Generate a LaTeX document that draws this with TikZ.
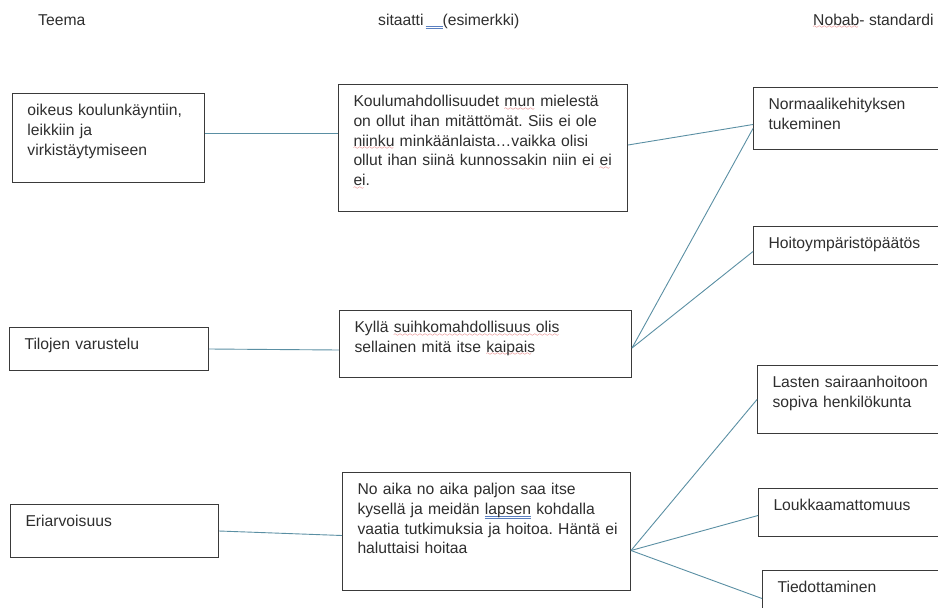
\documentclass[tikz,border=0pt]{standalone}
\usepackage{fontspec}
\setmainfont{Liberation Sans}
\usepackage{xcolor}
\definecolor{vblack}{HTML}{3A3A3A}
\definecolor{vtext}{HTML}{2E2E2E}
\definecolor{vline}{HTML}{5A8FA3}
\definecolor{vred}{HTML}{D83030}
\definecolor{vmark}{HTML}{5A7FC0}
\font\vwavefont=lasy6
% spelling marks
\newcommand{\spellmark}[1]{\leavevmode\setbox0\hbox{#1}\rlap{\textcolor{vred}{\lower3.5pt\hbox to \wd0{\leaders\hbox{\vwavefont\char58}\hfil}}}\box0\relax}
\newcommand{\grammark}[1]{\leavevmode\setbox0\hbox{#1}\rlap{\textcolor{vmark}{\rule[-1.8pt]{\wd0}{0.6pt}}}\rlap{\textcolor{vmark}{\rule[-3.8pt]{\wd0}{0.6pt}}}\box0\relax}

\tikzset{
	cell/.style = {draw = vblack, line width = 1pt, anchor = north west, align = left, inner xsep = 0pt, inner ysep = 0pt, text height = 22pt, text = vtext, font = \fontsize{15.7}{19.8}\selectfont, execute at begin node = {\frenchspacing\leftskip = 15pt\rightskip = 0pt plus 1fil}},
	head/.style = {anchor = base west, inner sep = 0pt, text = vtext, font = \fontsize{15.7}{19.8}\selectfont},
	link/.style = {draw = vline, line width = 0.9pt}
}

\begin{document}
\begin{tikzpicture}[x = 1pt, y = -1pt]
	\clip (0,0) rectangle (938,608);
	% headers
	\node[head] (hteema) at (38,25) {Teema};
	\node[head] (hsit) at (378,25) {sitaatti\hspace{2pt}\grammark{\hspace{17pt}}(esimerkki)};
	\node[head] (hstd) at (813,25) {\spellmark{Nobab}- standardi};
	% themes
	\node[cell, text width = 192pt, text depth = 67pt] (tema1) at (12,93) {oikeus koulunkäyntiin,\\leikkiin ja\\virkistäytymiseen};
	\node[cell, text width = 199pt, text depth = 21pt] (tema2) at (9,327) {Tilojen varustelu};
	\node[cell, text width = 208pt, text depth = 31pt] (tema3) at (10,504) {Eriarvoisuus};
	% quotes
	\node[cell, text width = 289pt, text depth = 105pt] (sit1) at (338,84) {Koulumahdollisuudet \spellmark{mun} mielestä\\on ollut ihan mitättömät. Siis ei ole\\\spellmark{niinku} minkäänlaista\ldots vaikka olisi\\ollut ihan siinä kunnossakin niin ei \spellmark{ei}\\\spellmark{ei}.};
	\node[cell, text width = 292pt, text depth = 45pt] (sit2) at (339,310) {Kyllä \spellmark{suihkomahdollisuus olis}\\sellainen mitä itse \spellmark{kaipais}};
	\node[cell, text width = 288pt, text depth = 96pt] (sit3) at (342,472) {No aika no aika paljon saa itse\\kysellä ja meidän \grammark{lapsen} kohdalla\\vaatia tutkimuksia ja hoitoa. Häntä ei\\haluttaisi hoitaa};
	% standards
	\node[cell, text width = 185pt, text depth = 40pt] (std1) at (753,87) {Normaalikehityksen\\tukeminen};
	\node[cell, text width = 185pt, text depth = 16pt] (std2) at (753,226) {Hoitoympäristöpäätös};
	\node[cell, text width = 181pt, text depth = 46pt] (std3) at (757,365) {Lasten sairaanhoitoon\\sopiva henkilökunta};
	\node[cell, text width = 180pt, text depth = 26pt] (std4) at (758,488) {Loukkaamattomuus};
	\node[cell, text width = 176pt, text depth = 34pt] (std5) at (762,570) {Tiedottaminen};
	% junctions
	\coordinate (j2) at ([yshift = -4pt]sit2.east);
	\coordinate (j3) at ([yshift = -19pt]sit3.east);
	% links
	\draw[link] ([yshift = 5pt]tema1.east) -- ([yshift = 5pt]tema1.east -| sit1.west);
	\draw[link] ([yshift = 3pt]sit1.east) -- ([yshift = -6pt]std1.west);
	\draw[link] (tema2.east) -- ([yshift = -6pt]sit2.west);
	\draw[link] (j2) -- ([yshift = -10pt]std1.west);
	\draw[link] (j2) -- ([yshift = -6pt]std2.west);
	\draw[link] (tema3.east) -- ([yshift = -4pt]sit3.west);
	\draw[link] (j3) -- (std3.west);
	\draw[link] (j3) -- ([yshift = -3pt]std4.west);
	\draw[link] (j3) -- (std5.west);
\end{tikzpicture}
\end{document}
